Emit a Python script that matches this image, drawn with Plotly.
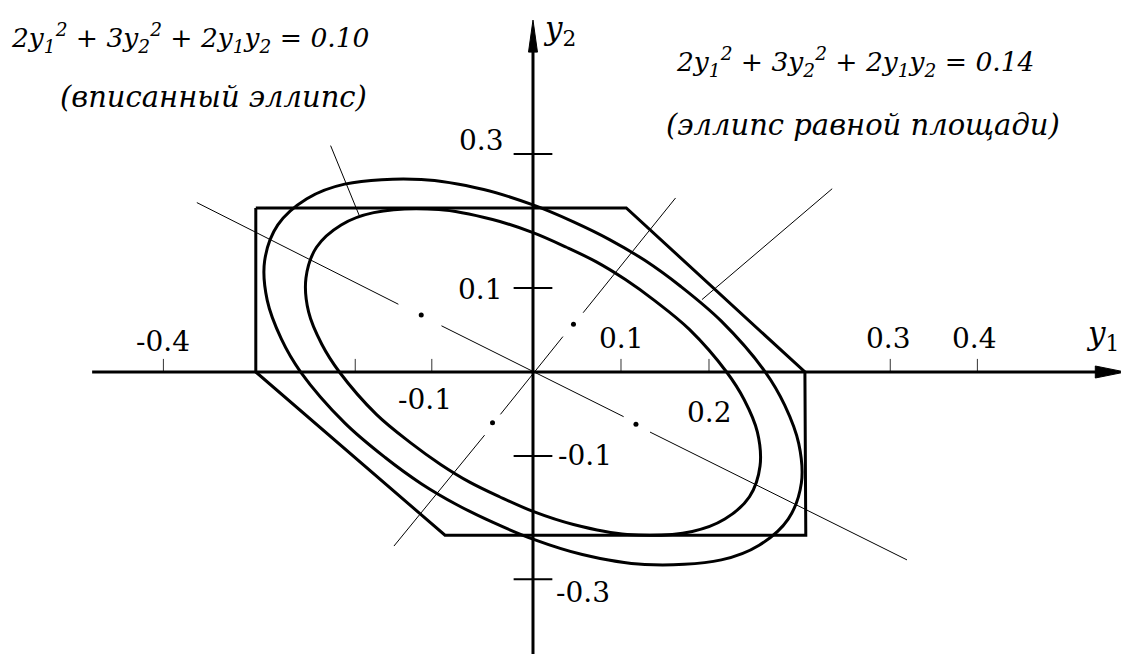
import plotly.graph_objects

# hexagon of admissible (y1, y2)
polygon_y1 = [-0.315, 0.106, 0.309, 0.310, -0.100, -0.315, -0.315]
polygon_y2 = [0.213, 0.213, 0.000, -0.212, -0.212, 0.000, 0.213]

# 2*y1^2 + 3*y2^2 + 2*y1*y2 = 0.10 (inscribed ellipse)
inner_y1 = [0.220, 0.178, 0.139, 0.105, 0.072, 0.038, 0.000, -0.046, -0.107, -0.181,
            -0.218, -0.246, -0.258, -0.255, -0.240, -0.220, -0.178, -0.139, -0.105, -0.072,
            -0.038, 0.000, 0.046, 0.107, 0.181, 0.218, 0.246, 0.258, 0.255, 0.240, 0.220]
inner_y2 = [0.000, 0.055, 0.092, 0.120, 0.143, 0.162, 0.181, 0.198, 0.211, 0.207,
            0.191, 0.162, 0.122, 0.078, 0.036, 0.000, -0.055, -0.092, -0.120, -0.143,
            -0.162, -0.181, -0.198, -0.211, -0.207, -0.191, -0.162, -0.122, -0.078, -0.036, 0.000]

# 2*y1^2 + 3*y2^2 + 2*y1*y2 = 0.14 (ellipse of equal area)
outer_y1 = [0.264, 0.214, 0.168, 0.127, 0.087, 0.046, 0.000, -0.056, -0.127, -0.214,
            -0.257, -0.290, -0.305, -0.302, -0.286, -0.264, -0.214, -0.168, -0.127, -0.087,
            -0.046, 0.000, 0.056, 0.127, 0.214, 0.257, 0.290, 0.305, 0.302, 0.286, 0.264]
outer_y2 = [0.000, 0.066, 0.111, 0.145, 0.172, 0.195, 0.217, 0.237, 0.250, 0.244,
            0.225, 0.191, 0.144, 0.093, 0.043, 0.000, -0.066, -0.111, -0.145, -0.172,
            -0.195, -0.217, -0.237, -0.250, -0.244, -0.225, -0.191, -0.144, -0.093, -0.043, 0.000]

# dash-dot centre lines (None splits the dashes) and their dots
major_y1 = [-0.382, -0.153, None, -0.104, 0.103, None, 0.133, 0.425]
major_y2 = [0.220, 0.088, None, 0.060, -0.058, None, -0.078, -0.244]
minor_y1 = [-0.158, -0.055, None, -0.037, 0.034, None, 0.057, 0.162]
minor_y2 = [-0.226, -0.082, None, -0.055, 0.046, None, 0.077, 0.226]
dot_y1 = [-0.127, 0.117, -0.046, 0.046]
dot_y2 = [0.074, -0.068, -0.066, 0.062]

# leader lines from the captions to the curves
leader_y1 = [-0.230, -0.197, None, 0.340, 0.192]
leader_y2 = [0.294, 0.202, None, 0.238, 0.094]

# axes and ticks
y1_axis = [-0.501, 0.673]
y2_axis = [-0.370, 0.457]
y1_ticks = [-0.420, -0.202, -0.115, 0.100, 0.200, 0.406, 0.505]
y2_ticks = [0.283, 0.109, -0.109, -0.269]
y1_tick_labels = ["-0.4", "-0.1", "0.1", "0.2", "0.3", "0.4"]
y1_label_x = [-0.421, -0.123, 0.101, 0.201, 0.404, 0.502]
y1_label_y = [0.040, -0.036, 0.043, -0.052, 0.043, 0.043]
y2_tick_labels = ["0.3", "0.1", "-0.1", "-0.3"]
y2_label_x = [-0.059, -0.060, 0.059, 0.057]
y2_label_y = [0.300, 0.107, -0.109, -0.286]

formulas = [
    "2y<sub>1</sub><sup>2</sup> + 3y<sub>2</sub><sup>2</sup> + 2y<sub>1</sub>y<sub>2</sub> = 0.10",
    "2y<sub>1</sub><sup>2</sup> + 3y<sub>2</sub><sup>2</sup> + 2y<sub>1</sub>y<sub>2</sub> = 0.14",
]
notes = ["(вписанный эллипс)", "(эллипс равной площади)"]

# the page body has an 8px margin, so the figure is 8px smaller than the window
X_RANGE = [-0.5966, 0.6773]
Y_RANGE = [-0.3662, 0.4727]
FONT = "DejaVu Serif, serif"


def main():
    go = plotly.graph_objects
    fig = go.Figure()
    thick = {"color": "black", "width": 3}
    thin = {"color": "black", "width": 1}

    # tick marks
    tx, ty = [], []
    for t in y1_ticks:
        tx += [t, t, None]
        ty += [0, 0.017, None]
    fig.add_trace(go.Scatter(x=tx, y=ty, mode="lines", line={"color": "#333", "width": 1}))
    tx, ty = [], []
    for t in y2_ticks:
        tx += [-0.022, 0.022, None]
        ty += [t, t, None]
    fig.add_trace(go.Scatter(x=tx, y=ty, mode="lines", line={"color": "black", "width": 2}))

    # axes with long narrow arrow heads
    hx, hy = 0.034, 0.0078
    fig.add_trace(go.Scatter(x=[y1_axis[0], y1_axis[1] - hx / 2], y=[0, 0],
                             mode="lines", line=thick))
    fig.add_trace(go.Scatter(
        x=[y1_axis[1], y1_axis[1] - hx, y1_axis[1] - hx, y1_axis[1]],
        y=[0, hy, -hy, 0], mode="lines", fill="toself", fillcolor="black",
        line={"color": "black", "width": 1}))
    vx, vy = 0.0051, 0.0416
    fig.add_trace(go.Scatter(x=[0, 0], y=[y2_axis[0], y2_axis[1] - vy / 2],
                             mode="lines", line=thick))
    fig.add_trace(go.Scatter(
        x=[0, vx, -vx, 0],
        y=[y2_axis[1], y2_axis[1] - vy, y2_axis[1] - vy, y2_axis[1]],
        mode="lines", fill="toself", fillcolor="black",
        line={"color": "black", "width": 1}))

    # centre lines, leaders
    fig.add_trace(go.Scatter(x=major_y1, y=major_y2, mode="lines", line=thin))
    fig.add_trace(go.Scatter(x=minor_y1, y=minor_y2, mode="lines", line=thin))
    fig.add_trace(go.Scatter(x=leader_y1, y=leader_y2, mode="lines", line=thin))
    fig.add_trace(go.Scatter(x=dot_y1, y=dot_y2, mode="markers",
                             marker={"color": "black", "size": 5}))

    # polygon and ellipses (first point repeated -> plotly closes the spline smoothly)
    fig.add_trace(go.Scatter(x=polygon_y1, y=polygon_y2, mode="lines", line=thick))
    fig.add_trace(go.Scatter(x=inner_y1, y=inner_y2, mode="lines",
                             line={"color": "black", "width": 3, "shape": "spline"}))
    fig.add_trace(go.Scatter(x=outer_y1, y=outer_y2, mode="lines",
                             line={"color": "black", "width": 3, "shape": "spline"}))

    tick_font = {"family": FONT, "size": 28, "color": "black"}
    for text, x, y in zip(y1_tick_labels, y1_label_x, y1_label_y):
        fig.add_annotation(x=x, y=y, text=text, showarrow=False, font=tick_font,
                           xanchor="center", yanchor="middle")
    for text, x, y in zip(y2_tick_labels, y2_label_x, y2_label_y):
        fig.add_annotation(x=x, y=y, text=text, showarrow=False, font=tick_font,
                           xanchor="center", yanchor="middle")

    axis_font = {"family": FONT, "size": 31, "color": "black"}
    fig.add_annotation(x=0.9768, y=0.4938, xref="paper", yref="paper",
                       text="<i>y</i><sub>1</sub>", showarrow=False, font=axis_font,
                       xanchor="center", yanchor="middle")
    fig.add_annotation(x=0.4920, y=1.0, xref="paper", yref="paper",
                       text="<i>y</i><sub>2</sub>", showarrow=False, font=axis_font,
                       xanchor="center", yanchor="top")

    formula_font = {"family": FONT, "size": 26.5, "color": "black", "style": "italic"}
    note_font = {"family": FONT, "size": 29, "color": "black", "style": "italic"}
    for text, (x, y) in zip(formulas, [(0.1632, 0.9536), (0.7556, 0.9164)]):
        fig.add_annotation(x=x, y=y, xref="paper", yref="paper", text=text,
                           showarrow=False, font=formula_font,
                           xanchor="center", yanchor="middle")
    for text, (x, y) in zip(notes, [(0.1829, 0.8622), (0.7627, 0.8189)]):
        fig.add_annotation(x=x, y=y, xref="paper", yref="paper", text=text,
                           showarrow=False, font=note_font,
                           xanchor="center", yanchor="middle")

    fig.update_layout(
        width=1121,
        height=646,
        autosize=False,
        showlegend=False,
        margin={"l": 0, "r": 0, "t": 0, "b": 0},
        paper_bgcolor="white",
        plot_bgcolor="white",
        xaxis={"range": X_RANGE, "visible": False, "fixedrange": True},
        yaxis={"range": Y_RANGE, "visible": False, "fixedrange": True},
    )
    fig.write_html("out.html")


if __name__ == '__main__':
    main()
